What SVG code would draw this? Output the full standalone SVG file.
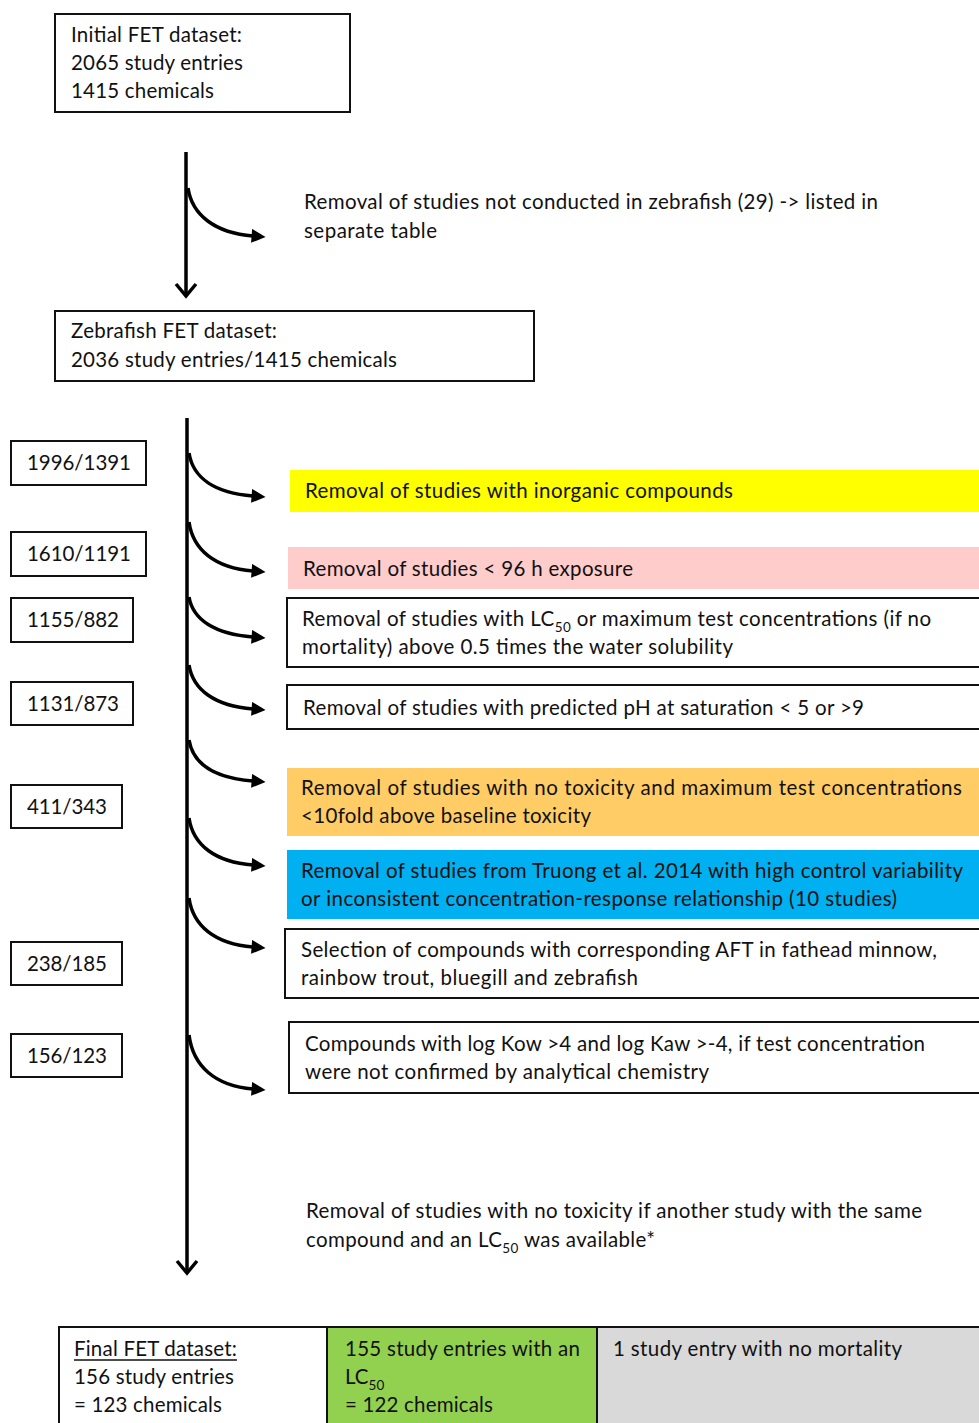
<svg xmlns="http://www.w3.org/2000/svg" width="979" height="1423" viewBox="0 0 979 1423">
<style>
text{font-family:Lato,"Open Sans","Liberation Sans",sans-serif;font-size:20.5px;fill:#111}
.box{fill:#fff;stroke:#111;stroke-width:2}
.conn{fill:none;stroke:#000;stroke-width:3.5}
.sub{font-size:13.5px}
</style>
<defs>
<marker id="ah" viewBox="0 0 10 10" refX="1" refY="5" markerWidth="16" markerHeight="14" markerUnits="userSpaceOnUse" orient="auto">
<path d="M0,0 L10,5 L0,10 z" fill="#000"/>
</marker>
</defs>
<rect width="979" height="1423" fill="#fff"/>

<g id="initial">
<rect class="box" x="55" y="14" width="295" height="98"/>
<text x="71" y="42" textLength="171">Initial FET dataset:</text>
<text x="71" y="70" textLength="172">2065 study entries</text>
<text x="71" y="98" textLength="143">1415 chemicals</text>
</g>

<g id="note-zebrafish">
<text x="304" y="209" textLength="574">Removal of studies not conducted in zebrafish (29) -&gt; listed in</text>
<text x="304" y="238" textLength="133">separate table</text>
</g>

<g id="zebrafish">
<rect class="box" x="55" y="311" width="479" height="70"/>
<text x="71" y="338" textLength="206">Zebrafish FET dataset:</text>
<text x="71" y="367" textLength="326">2036 study entries/1415 chemicals</text>
</g>

<g id="n1996">
<rect class="box" x="11" y="441" width="135" height="44"/>
<text x="27" y="470" textLength="104">1996/1391</text>
</g>
<g id="n1610">
<rect class="box" x="11" y="532" width="135" height="44"/>
<text x="27" y="561" textLength="104">1610/1191</text>
</g>
<g id="n1155">
<rect class="box" x="11" y="598" width="122" height="44"/>
<text x="27" y="627" textLength="92">1155/882</text>
</g>
<g id="n1131">
<rect class="box" x="11" y="682" width="122" height="43"/>
<text x="27" y="711" textLength="92">1131/873</text>
</g>
<g id="n411">
<rect class="box" x="11" y="785" width="111" height="43"/>
<text x="27" y="814" textLength="80">411/343</text>
</g>
<g id="n238">
<rect class="box" x="11" y="942" width="111" height="43"/>
<text x="27" y="971" textLength="80">238/185</text>
</g>
<g id="n156">
<rect class="box" x="11" y="1034" width="111" height="43"/>
<text x="27" y="1063" textLength="80">156/123</text>
</g>

<g id="inorganic">
<rect x="290" y="470" width="692" height="42" fill="#FFFF00"/>
<text x="305" y="498" textLength="428">Removal of studies with inorganic compounds</text>
</g>
<g id="exposure">
<rect x="288" y="547" width="694" height="42" fill="#FFCCCC"/>
<text x="303" y="576" textLength="330">Removal of studies &lt; 96 h exposure</text>
</g>
<g id="solubility">
<rect class="box" x="287" y="598" width="697" height="69"/>
<text x="302" y="626" textLength="629">Removal of studies with LC<tspan class="sub" dy="6">50</tspan><tspan dy="-6"> or maximum test concentrations (if no</tspan></text>
<text x="302" y="654" textLength="431">mortality) above 0.5 times the water solubility</text>
</g>
<g id="ph">
<rect class="box" x="287" y="685" width="697" height="44"/>
<text x="303" y="715" textLength="561">Removal of studies with predicted pH at saturation &lt; 5 or &gt;9</text>
</g>
<g id="baseline">
<rect x="287" y="768" width="695" height="68" fill="#FFCC66"/>
<text x="301" y="795" textLength="661">Removal of studies with no toxicity and  maximum  test concentrations</text>
<text x="301" y="823" textLength="290">&lt;10fold above baseline toxicity</text>
</g>
<g id="truong">
<rect x="287" y="850" width="695" height="69" fill="#00B0F0"/>
<text x="301" y="878" textLength="662">Removal of studies from Truong et al. 2014 with high control variability</text>
<text x="301" y="906" textLength="596">or inconsistent concentration-response relationship (10 studies)</text>
</g>
<g id="aft">
<rect class="box" x="285" y="929" width="699" height="69"/>
<text x="301" y="957" textLength="636">Selection of compounds with corresponding AFT in fathead minnow,</text>
<text x="301" y="985" textLength="337">rainbow trout, bluegill and zebrafish</text>
</g>
<g id="kow">
<rect class="box" x="289" y="1022" width="695" height="71"/>
<text x="305" y="1051" textLength="620">Compounds with log Kow &gt;4 and log Kaw &gt;-4, if test concentration</text>
<text x="305" y="1079" textLength="404">were not confirmed by analytical chemistry</text>
</g>
<g id="note-lc50">
<text x="306" y="1218" textLength="616">Removal of studies with no toxicity if another study with the same</text>
<text x="306" y="1247" textLength="349">compound and an LC<tspan class="sub" dy="6">50</tspan><tspan dy="-6"> was available*</tspan></text>
</g>

<g id="final">
<rect class="box" x="59" y="1327" width="268" height="100"/>
<text x="74" y="1356" textLength="163">Final FET dataset:</text>
<line x1="74" y1="1360" x2="237" y2="1360" stroke="#111" stroke-width="1.5"/>
<text x="74" y="1384" textLength="160">156 study entries</text>
<text x="74" y="1412" textLength="148">= 123 chemicals</text>
</g>
<g id="with-lc50">
<rect x="327" y="1327" width="270" height="100" fill="#92D050" stroke="#111" stroke-width="2"/>
<text x="345" y="1356" textLength="235">155 study entries with an</text>
<text x="345" y="1384">LC<tspan class="sub" dy="6">50</tspan></text>
<text x="345" y="1412" textLength="148">= 122 chemicals</text>
</g>
<g id="no-mortality">
<rect x="597" y="1327" width="385" height="100" fill="#D9D9D9" stroke="#111" stroke-width="2"/>
<text x="613" y="1356" textLength="289">1 study entry with no mortality</text>
</g>

<g id="connectors">
<line class="conn" x1="186" y1="152" x2="186" y2="296"/>
<polyline class="conn" points="176,284 186,296 196,284" stroke-width="3"/>
<line class="conn" x1="187" y1="418" x2="187" y2="1272"/>
<polyline class="conn" points="177,1261 187,1273 197,1261" stroke-width="3"/>
<path class="conn" marker-end="url(#ah)" d="M188,188 C192,215 215,233 253,236"/>
<path class="conn" marker-end="url(#ah)" d="M189,453 C193,478 215,493 253,496"/>
<path class="conn" marker-end="url(#ah)" d="M189,522 C193,550 215,568 253,571"/>
<path class="conn" marker-end="url(#ah)" d="M189,597 C193,620 215,634 253,637"/>
<path class="conn" marker-end="url(#ah)" d="M189,665 C193,690 215,706 253,709"/>
<path class="conn" marker-end="url(#ah)" d="M189,740 C193,764 215,778 253,781"/>
<path class="conn" marker-end="url(#ah)" d="M189,818 C193,845 215,862 253,865"/>
<path class="conn" marker-end="url(#ah)" d="M189,898 C193,926 215,944 253,947"/>
<path class="conn" marker-end="url(#ah)" d="M189,1035 C193,1066 215,1086 253,1089"/>
</g>
</svg>
